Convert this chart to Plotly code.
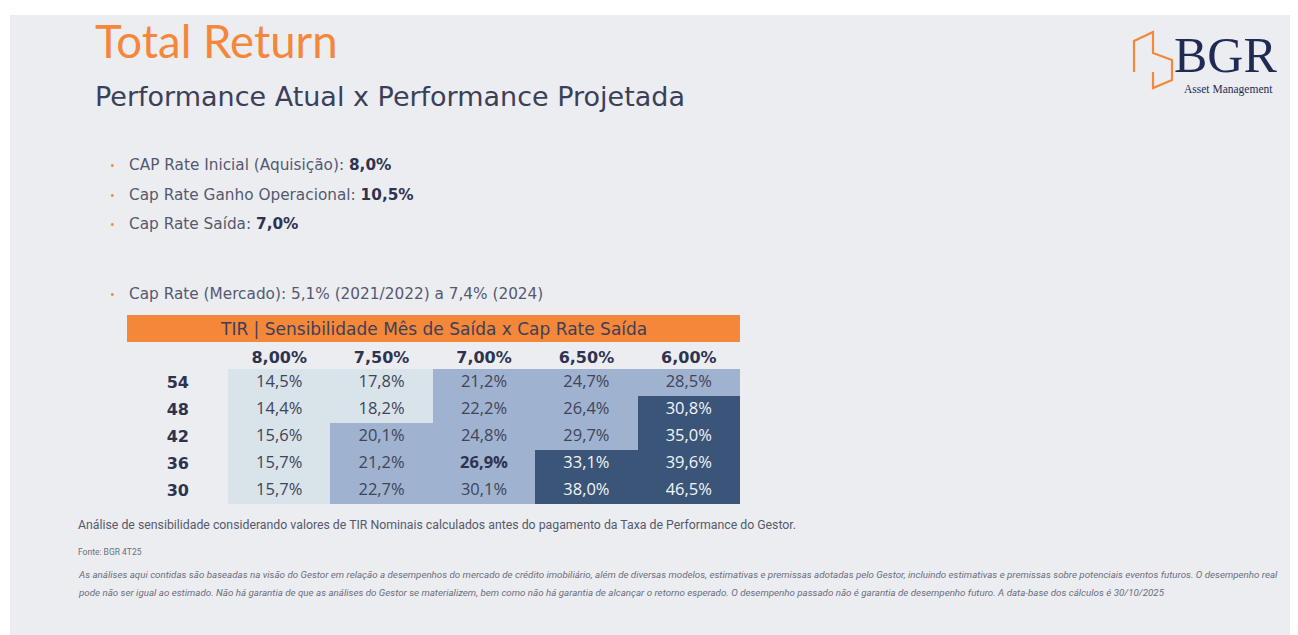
import plotly.graph_objects as go

# ---------------- data ----------------
cap_rates = ["8,00%", "7,50%", "7,00%", "6,50%", "6,00%"]
months = ["54", "48", "42", "36", "30"]
tir_54 = [14.5, 17.8, 21.2, 24.7, 28.5]
tir_48 = [14.4, 18.2, 22.2, 26.4, 30.8]
tir_42 = [15.6, 20.1, 24.8, 29.7, 35.0]
tir_36 = [15.7, 21.2, 26.9, 33.1, 39.6]
tir_30 = [15.7, 22.7, 30.1, 38.0, 46.5]
band_54 = [0, 0, 1, 1, 1]
band_48 = [0, 0, 1, 1, 2]
band_42 = [0, 1, 1, 1, 2]
band_36 = [0, 1, 1, 2, 2]
band_30 = [0, 1, 1, 2, 2]
highlight = ("36", "7,00%")

bullets = [
    ("CAP Rate Inicial (Aquisição): ", "8,0%"),
    ("Cap Rate Ganho Operacional: ", "10,5%"),
    ("Cap Rate Saída: ", "7,0%"),
    ("Cap Rate (Mercado): 5,1% (2021/2022) a 7,4% (2024)", ""),
]

tir = [tir_54, tir_48, tir_42, tir_36, tir_30]
band = [band_54, band_48, band_42, band_36, band_30]

# the plot div sits 8px inside the page (body margin)
OFF = 8
W, H = 1290, 627
def px(x): return (x - OFF) / W
def py(y): return 1 - (y - OFF) / H

ORANGE = "#F5873A"
NAVY = "#2E3350"
BG = "#ECEDF1"
LIGHT = "#D9E3EA"
MID = "#9FB2CF"
DARK = "#3A5578"

fig = go.Figure()

# heatmap cells
fig.add_trace(go.Heatmap(
    x=cap_rates, y=months, z=band, zmin=0, zmax=2,
    colorscale=[[0, LIGHT], [0.333, LIGHT], [0.333, MID], [0.667, MID], [0.667, DARK], [1, DARK]],
    showscale=False, hoverinfo="skip", xgap=0, ygap=0,
))

# cell texts
xs, ys, ts, cs = [], [], [], []
for i, m in enumerate(months):
    for j, c in enumerate(cap_rates):
        s = f"{tir[i][j]:.1f}%".replace(".", ",")
        if (m, c) == highlight:
            s = f"<b>{s}</b>"
        xs.append(c); ys.append(m); ts.append(s)
        cs.append("#F2F4F8" if band[i][j] == 2 else ("#2E3350" if (m, c) == highlight else "#3F4459"))
fig.add_trace(go.Scatter(
    x=xs, y=ys, text=ts, mode="text", hoverinfo="skip",
    textfont=dict(family="Open Sans", size=16.5, color=cs), showlegend=False,
))

shapes = []
# slide background
shapes.append(dict(type="rect", xref="paper", yref="paper", x0=px(10), x1=px(1298), y0=py(635), y1=py(15),
                   fillcolor=BG, line=dict(width=0), layer="below"))
# orange table header
shapes.append(dict(type="rect", xref="paper", yref="paper", x0=px(127), x1=px(740), y0=py(342), y1=py(315),
                   fillcolor=ORANGE, line=dict(width=0), layer="below"))
# logo building outline
pts = [(1134, 72), (1134, 41), (1153, 32), (1153, 53), (1172, 60), (1172, 80), (1153, 88), (1153, 72)]
path = "M " + " L ".join(f"{px(x)} {py(y)}" for x, y in pts)
shapes.append(dict(type="path", xref="paper", yref="paper", path=path,
                   line=dict(color=ORANGE, width=2.2), fillcolor="rgba(0,0,0,0)"))

ann = []
ann.append(dict(text="Total Return", x=px(93), y=py(40), xanchor="left", yanchor="middle",
                font=dict(family="Lato", size=45.5, color=ORANGE)))
ann.append(dict(text="Performance Atual x Performance Projetada", x=px(93), y=py(96), xanchor="left", yanchor="middle",
                font=dict(family="DejaVu Sans", size=27, color="#3B3F58")))
# logo text
ann.append(dict(text="BGR", x=px(1172), y=py(55), xanchor="left", yanchor="middle",
                font=dict(family="Liberation Serif", size=50, color="#1F2A55")))
ann.append(dict(text="Asset Management", x=px(1182), y=py(89), xanchor="left", yanchor="middle",
                font=dict(family="Liberation Serif", size=11.5, color="#1F2A55")))

for (t, b), yy in zip(bullets, [165, 195, 224, 294]):
    ann.append(dict(text="•", x=px(108), y=py(yy), xanchor="left", yanchor="middle",
                    font=dict(family="Open Sans", size=13, color=ORANGE)))
    txt = t + (f"<b><span style='color:{NAVY}'>{b}</span></b>" if b else "")
    ann.append(dict(text=txt, x=px(127), y=py(yy), xanchor="left", yanchor="middle",
                    font=dict(family="DejaVu Sans", size=15.3, color="#545970")))

ann.append(dict(text="TIR | Sensibilidade Mês de Saída x Cap Rate Saída", x=px(433.5), y=py(328.5),
                xanchor="center", yanchor="middle", font=dict(family="DejaVu Sans", size=17, color="#3D4057")))

ann.append(dict(text="Análise de sensibilidade considerando valores de TIR Nominais calculados antes do pagamento da Taxa de Performance do Gestor.",
                x=px(76), y=py(525), xanchor="left", yanchor="middle",
                font=dict(family="Roboto", size=12.3, color="#55596A")))
ann.append(dict(text="Fonte: BGR 4T25", x=px(76), y=py(552), xanchor="left", yanchor="middle",
                font=dict(family="Roboto", size=8.5, color="#6A6E7E")))
ann.append(dict(text="<i>As análises aqui contidas são baseadas na visão do Gestor em relação a desempenhos do mercado de crédito imobiliário, além de diversas modelos, estimativas e premissas adotadas pelo Gestor, incluindo estimativas e premissas sobre potenciais eventos futuros. O desempenho real</i>",
                x=px(76), y=py(574), xanchor="left", yanchor="middle",
                font=dict(family="Roboto", size=9.75, color="#6A6E7E")))
ann.append(dict(text="<i>pode não ser igual ao estimado. Não há garantia de que as análises do Gestor se materializem, bem como não há garantia de alcançar o retorno esperado. O desempenho passado não é garantia de desempenho futuro. A data-base dos cálculos é 30/10/2025</i>",
                x=px(76), y=py(592), xanchor="left", yanchor="middle",
                font=dict(family="Roboto", size=9.75, color="#6A6E7E")))

for a in ann:
    a.update(xref="paper", yref="paper", showarrow=False)

fig.update_layout(
    width=W, height=H, margin=dict(l=0, r=0, t=0, b=0),
    paper_bgcolor="white", plot_bgcolor="rgba(0,0,0,0)",
    shapes=shapes, annotations=ann, showlegend=False,
    xaxis=dict(domain=[px(228), px(740)], side="top", showgrid=False, zeroline=False, showline=False,
               ticks="", ticklabelstandoff=2, fixedrange=True,
               tickfont=dict(family="DejaVu Sans", size=16, color=NAVY, weight="bold")),
    yaxis=dict(domain=[py(504), py(369)], autorange="reversed", showgrid=False, zeroline=False, showline=False,
               ticks="", ticklabelstandoff=38, fixedrange=True,
               tickfont=dict(family="DejaVu Sans", size=16, color=NAVY, weight="bold")),
)

fig.write_html("out.html")
